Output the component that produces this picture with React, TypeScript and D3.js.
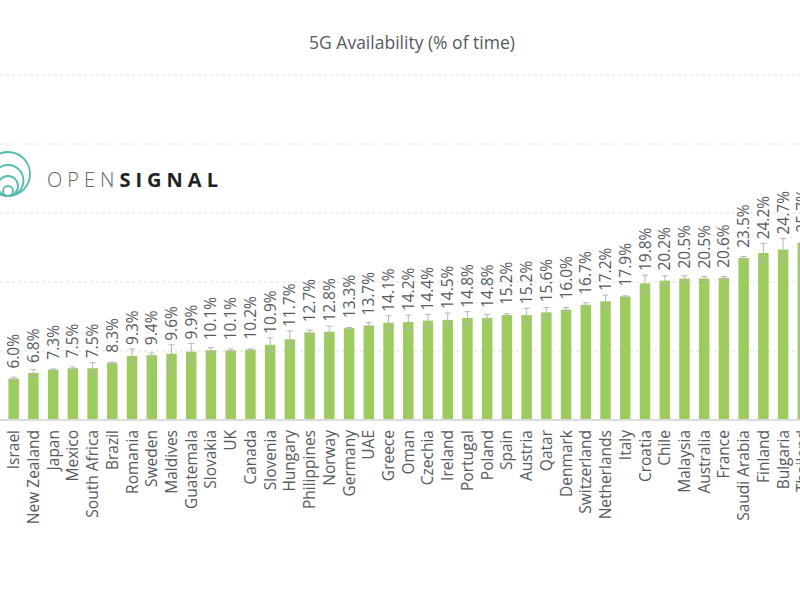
import React from "react";
import * as d3 from "d3";

const countries = ["Israel","New Zealand","Japan","Mexico","South Africa","Brazil","Romania","Sweden","Maldives","Guatemala","Slovakia","UK","Canada","Slovenia","Hungary","Philippines","Norway","Germany","UAE","Greece","Oman","Czechia","Ireland","Portugal","Poland","Spain","Austria","Qatar","Denmark","Switzerland","Netherlands","Italy","Croatia","Chile","Malaysia","Australia","France","Saudi Arabia","Finland","Bulgaria","Thailand"];
const values = [6.0,6.8,7.3,7.5,7.5,8.3,9.3,9.4,9.6,9.9,10.1,10.1,10.2,10.9,11.7,12.7,12.8,13.3,13.7,14.1,14.2,14.4,14.5,14.8,14.8,15.2,15.2,15.6,16.0,16.7,17.2,17.9,19.8,20.2,20.5,20.5,20.6,23.5,24.2,24.7,25.7];
const errUpper = [0.2,0.5,0.1,0.2,0.8,0.1,1.0,0.3,1.3,1.2,0.4,0.2,0.1,1.0,1.2,0.3,0.8,0.1,0.4,1.0,1.0,0.9,1.0,0.9,0.5,0.2,1.0,0.7,0.3,0.3,0.9,0.1,1.2,0.7,0.4,0.3,0.2,0.2,1.4,1.6,0.3];
const errLower = [0.2,0.5,0.1,0.2,0.8,0.1,1.0,0.3,3.0,1.6,0.4,0.2,0.1,1.0,1.2,0.3,0.8,0.1,0.4,1.0,1.0,0.9,1.0,0.9,0.5,0.2,1.0,0.7,0.3,0.3,0.9,0.1,1.2,0.7,0.4,0.3,0.2,0.2,1.4,1.6,0.3];
const yTicks = [10, 20, 30, 40, 50];
const title = "5G Availability (% of time)";

const FONT = "'Open Sans', sans-serif";
const TEXT = "#555a5f";

export default function App() {
  const W = 800, H = 600;
  const y = d3.scaleLinear().domain([0, 50]).range([420, 75]);
  const x = d3.scaleBand<string>().domain(countries).range([3.8, 812.7]).paddingInner(0.47).paddingOuter(0.235);
  const bw = x.bandwidth();
  const circles = [22, 15.5, 10, 5];
  return (
    <div style={{ position: "absolute", left: 0, top: 0, width: W, height: H, background: "#fff" }}>
      <svg width={W} height={H} style={{ display: "block" }}>
        <rect width={W} height={H} fill="#fff" />
        <text x={412} y={49} textAnchor="middle" fontFamily={FONT} fontSize={17.5} fill={TEXT}>{title}</text>
        {yTicks.map(t => (
          <line key={t} x1={0} x2={W} y1={y(t)} y2={y(t)} stroke="#e0e0e0" strokeWidth={1} strokeDasharray="3,3" />
        ))}
        {/* logo */}
        <g>
          {circles.map(r => (
            <circle key={r} cx={8} cy={196 - r} r={r} fill="none" stroke="#55b9ae" strokeWidth={1.8} />
          ))}
          <text x={47} y={187} fontFamily={FONT} fontSize={20} letterSpacing={5}>
            <tspan fill="#666" fontWeight={300}>OPEN</tspan>
            <tspan fill="#222" fontWeight={700}>SIGNAL</tspan>
          </text>
        </g>
        {countries.map((c, i) => {
          const cx = (x(c) as number) + bw / 2;
          const v = values[i];
          const top = y(v + errUpper[i]);
          const bot = y(v - errLower[i]);
          return (
            <g key={c}>
              <rect x={x(c)} y={y(v)} width={bw} height={y(0) - y(v)} fill="#9dcb5e" />
              <line x1={cx} x2={cx} y1={top} y2={bot} stroke="#b5b5b5" strokeWidth={1} />
              <line x1={cx - 3} x2={cx + 3} y1={top} y2={top} stroke="#b5b5b5" strokeWidth={1} />
              <line x1={cx - 3} x2={cx + 3} y1={bot} y2={bot} stroke="#b5b5b5" strokeWidth={1} />
              <text transform={`translate(${cx + 5.5},${Math.min(top, y(v) - 6) - 4}) rotate(-90)`} fontFamily={FONT} fontSize={15.5} fill={TEXT}>{v.toFixed(1)}%</text>
              <text transform={`translate(${cx + 5.5},430) rotate(-90)`} textAnchor="end" fontFamily={FONT} fontSize={15.5} fill={TEXT}>{c}</text>
            </g>
          );
        })}
        <line x1={0} x2={W} y1={y(0)} y2={y(0)} stroke="#dcdcdc" strokeWidth={2} />
      </svg>
    </div>
  );
}
